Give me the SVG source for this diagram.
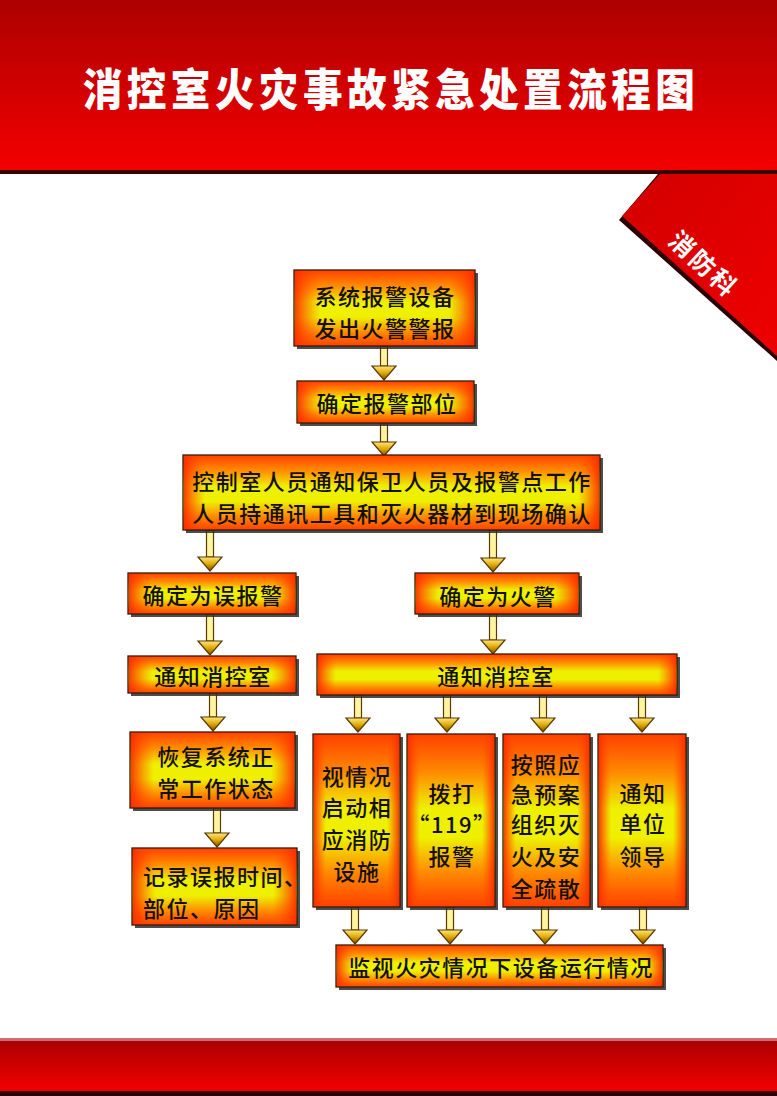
<svg xmlns="http://www.w3.org/2000/svg" width="777" height="1096" viewBox="0 0 777 1096">
<defs>
<linearGradient id="hdr" x1="0" y1="0" x2="0" y2="1">
<stop offset="0" stop-color="#ad0000"/><stop offset="1" stop-color="#f40000"/>
</linearGradient>
<linearGradient id="rib" x1="0" y1="0" x2="1" y2="1">
<stop offset="0" stop-color="#d20000"/><stop offset="1" stop-color="#ee0000"/>
</linearGradient>
<linearGradient id="gV" x1="0" y1="0" x2="0" y2="1">
<stop offset="0" stop-color="#ff4000"/><stop offset="0.22" stop-color="#ff9000"/><stop offset="0.42" stop-color="#eef000"/><stop offset="0.62" stop-color="#eef000"/><stop offset="0.82" stop-color="#ff8a00"/><stop offset="1" stop-color="#ff4000"/>
</linearGradient>
<linearGradient id="gTall" x1="0" y1="0" x2="0" y2="1">
<stop offset="0" stop-color="#ff4000"/><stop offset="0.22" stop-color="#ff8a00"/><stop offset="0.43" stop-color="#eef000"/><stop offset="0.6" stop-color="#eef000"/><stop offset="0.8" stop-color="#ff8a00"/><stop offset="1" stop-color="#ff4000"/>
</linearGradient>
<linearGradient id="gHw" x1="0" y1="0" x2="1" y2="0">
<stop offset="0" stop-color="#ff2a00" stop-opacity="0.9"/><stop offset="0.05" stop-color="#ff5000" stop-opacity="0"/><stop offset="0.95" stop-color="#ff5000" stop-opacity="0"/><stop offset="1" stop-color="#ff2a00" stop-opacity="0.9"/>
</linearGradient>
<linearGradient id="gHn" x1="0" y1="0" x2="1" y2="0">
<stop offset="0" stop-color="#ff2a00" stop-opacity="0.9"/><stop offset="0.14" stop-color="#ff5000" stop-opacity="0"/><stop offset="0.86" stop-color="#ff5000" stop-opacity="0"/><stop offset="1" stop-color="#ff2a00" stop-opacity="0.9"/>
</linearGradient>
<linearGradient id="head" x1="0" y1="0" x2="0" y2="1">
<stop offset="0" stop-color="#ffe680"/><stop offset="0.5" stop-color="#e0a800"/><stop offset="1" stop-color="#7a4a00"/>
</linearGradient>
<style>
.sh{fill:#2e2e2e;opacity:0.85}
.bx{fill:url(#gV);stroke:#3a1a00;stroke-width:1.3}
.tb{fill:url(#gTall);stroke:#3a1a00;stroke-width:1.3}
.ow{fill:url(#gHw);stroke:none}
.on{fill:url(#gHn);stroke:none}
.t{font-family:"Noto Sans CJK SC","Noto Sans",sans-serif;font-size:22px;font-weight:500;fill:#141000;letter-spacing:1.5px;text-anchor:middle;dominant-baseline:central}
.shaft{fill:#fff4a0;stroke:#5a3a00;stroke-width:1.2}
.hd{fill:url(#head);stroke:#5a3a00;stroke-width:1.2}
</style>
</defs>
<rect x="0" y="0" width="777" height="1096" fill="#ffffff"/>
<g id="header">
<rect x="0" y="0" width="777" height="171" fill="url(#hdr)"/>
<rect x="0" y="170" width="777" height="4" fill="#3a0000"/>
<text x="0" y="0" font-family="'Noto Sans CJK SC',sans-serif" font-size="40" font-weight="900" fill="#ffffff" letter-spacing="4.5" text-anchor="middle" dominant-baseline="central" transform="translate(391 86) scale(0.99 1.12)">消控室火灾事故紧急处置流程图</text>
</g>
<g id="ribbon">
<polygon points="658,174 777,174 777,361 619,220" fill="#2a0000"/>
<polygon points="660,174 777,174 777,356 622,216" fill="url(#rib)"/>
<text x="705" y="263" font-family="'Noto Sans CJK SC',serif" font-size="25" font-weight="700" fill="#ffffff" letter-spacing="3" text-anchor="middle" dominant-baseline="central" transform="rotate(43 705 263)">消防科</text>
</g>
<g id="footer">
<rect x="0" y="1038" width="777" height="3" fill="#c87070"/>
<rect x="0" y="1041" width="777" height="51" fill="url(#hdr)"/>
<rect x="0" y="1091" width="777" height="5" fill="#300000"/>
</g>
<g id="connectors">
<path class="shaft" d="M380.5,346 h7 v20 h-7 z"/><polygon class="hd" points="372,366 396,366 384,380"/>
<path class="shaft" d="M380.5,424 h7 v18 h-7 z"/><polygon class="hd" points="372,442 396,442 384,456"/>
<path class="shaft" d="M206.5,530 h7 v27 h-7 z"/><polygon class="hd" points="198,557 222,557 210,571"/>
<path class="shaft" d="M489.5,530 h7 v28 h-7 z"/><polygon class="hd" points="481,558 505,558 493,572"/>
<path class="shaft" d="M206.5,614 h7 v27 h-7 z"/><polygon class="hd" points="198,641 222,641 210,655"/>
<path class="shaft" d="M489.5,614 h7 v26 h-7 z"/><polygon class="hd" points="481,640 505,640 493,654"/>
<path class="shaft" d="M209.5,693 h7 v24 h-7 z"/><polygon class="hd" points="201,717 225,717 213,731"/>
<path class="shaft" d="M354.5,695 h7 v23 h-7 z"/><polygon class="hd" points="346,718 370,718 358,732"/>
<path class="shaft" d="M443.5,695 h7 v23 h-7 z"/><polygon class="hd" points="435,718 459,718 447,732"/>
<path class="shaft" d="M539.5,695 h7 v23 h-7 z"/><polygon class="hd" points="531,718 555,718 543,732"/>
<path class="shaft" d="M638.5,695 h7 v23 h-7 z"/><polygon class="hd" points="630,718 654,718 642,732"/>
<path class="shaft" d="M213.5,808 h7 v25 h-7 z"/><polygon class="hd" points="205,833 229,833 217,847"/>
<path class="shaft" d="M351.5,907 h7 v23 h-7 z"/><polygon class="hd" points="343,930 367,930 355,944"/>
<path class="shaft" d="M446.5,907 h7 v23 h-7 z"/><polygon class="hd" points="438,930 462,930 450,944"/>
<path class="shaft" d="M541.5,907 h7 v23 h-7 z"/><polygon class="hd" points="533,930 557,930 545,944"/>
<path class="shaft" d="M639.5,907 h7 v23 h-7 z"/><polygon class="hd" points="631,930 655,930 643,944"/>
</g>
<g id="n1"><rect class="sh" x="297" y="273" width="181" height="76"/><rect class="bx" x="294" y="270" width="181" height="76"/><rect class="on" x="295" y="271" width="179" height="74"/>
<text class="t" x="385" y="295">系统报警设备</text><text class="t" x="385" y="327">发出火警警报</text></g>
<g id="n2"><rect class="sh" x="300" y="384" width="177" height="42"/><rect class="bx" x="297" y="381" width="177" height="42"/><rect class="on" x="298" y="382" width="175" height="40"/>
<text class="t" x="387" y="402">确定报警部位</text></g>
<g id="n3"><rect class="sh" x="186" y="458" width="417" height="75"/><rect class="bx" x="183" y="455" width="417" height="75"/><rect class="ow" x="184" y="456" width="415" height="73"/>
<text class="t" x="392" y="480">控制室人员通知保卫人员及报警点工作</text><text class="t" x="392" y="512">人员持通讯工具和灭火器材到现场确认</text></g>
<g id="n4"><rect class="sh" x="131" y="576" width="168" height="41"/><rect class="bx" x="128" y="573" width="168" height="41"/><rect class="on" x="129" y="574" width="166" height="39"/>
<text class="t" x="213" y="594">确定为误报警</text></g>
<g id="n5"><rect class="sh" x="418" y="576" width="164" height="41"/><rect class="bx" x="415" y="573" width="164" height="41"/><rect class="on" x="416" y="574" width="162" height="39"/>
<text class="t" x="498" y="595">确定为火警</text></g>
<g id="n6"><rect class="sh" x="131" y="659" width="168" height="37"/><rect class="bx" x="128" y="656" width="168" height="37"/><rect class="on" x="129" y="657" width="166" height="35"/>
<text class="t" x="213" y="675">通知消控室</text></g>
<g id="n7"><rect class="sh" x="320" y="657" width="360" height="41"/><rect class="bx" x="317" y="654" width="360" height="41"/><rect class="ow" x="318" y="655" width="358" height="39"/>
<text class="t" x="496" y="675">通知消控室</text></g>
<g id="n8"><rect class="sh" x="133" y="735" width="165" height="76"/><rect class="bx" x="130" y="732" width="165" height="76"/><rect class="on" x="131" y="733" width="163" height="74"/>
<text class="t" x="216" y="755">恢复系统正</text><text class="t" x="216" y="787">常工作状态</text></g>
<g id="n9"><rect class="sh" x="135" y="851" width="165" height="77"/><rect class="bx" x="132" y="848" width="165" height="77"/><rect class="on" x="133" y="849" width="163" height="75"/>
<text class="t" x="143" y="875" style="text-anchor:start">记录误报时间、</text><text class="t" x="143" y="907" style="text-anchor:start">部位、原因</text></g>
<g id="n10"><rect class="sh" x="316" y="737" width="87" height="173"/><rect class="tb" x="313" y="734" width="87" height="173"/><rect class="on" x="314" y="735" width="85" height="171"/>
<text class="t" x="357" y="775">视情况</text><text class="t" x="357" y="806">启动相</text><text class="t" x="357" y="838">应消防</text><text class="t" x="357" y="870">设施</text></g>
<g id="n11"><rect class="sh" x="410" y="737" width="88" height="173"/><rect class="tb" x="407" y="734" width="88" height="173"/><rect class="on" x="408" y="735" width="86" height="171"/>
<text class="t" x="452" y="792">拨打</text><text class="t" x="452" y="823">“119”</text><text class="t" x="452" y="855">报警</text></g>
<g id="n12"><rect class="sh" x="506" y="737" width="87" height="173"/><rect class="tb" x="503" y="734" width="87" height="173"/><rect class="on" x="504" y="735" width="85" height="171"/>
<text class="t" x="546" y="763">按照应</text><text class="t" x="546" y="793">急预案</text><text class="t" x="546" y="823">组织灭</text><text class="t" x="546" y="855">火及安</text><text class="t" x="546" y="887">全疏散</text></g>
<g id="n13"><rect class="sh" x="601" y="737" width="88" height="173"/><rect class="tb" x="598" y="734" width="88" height="173"/><rect class="on" x="599" y="735" width="86" height="171"/>
<text class="t" x="643" y="792">通知</text><text class="t" x="643" y="822">单位</text><text class="t" x="643" y="855">领导</text></g>
<g id="n14"><rect class="sh" x="339" y="948" width="327" height="42"/><rect class="bx" x="336" y="945" width="327" height="42"/><rect class="ow" x="337" y="946" width="325" height="40"/>
<text class="t" x="501" y="966">监视火灾情况下设备运行情况</text></g>
</svg>
